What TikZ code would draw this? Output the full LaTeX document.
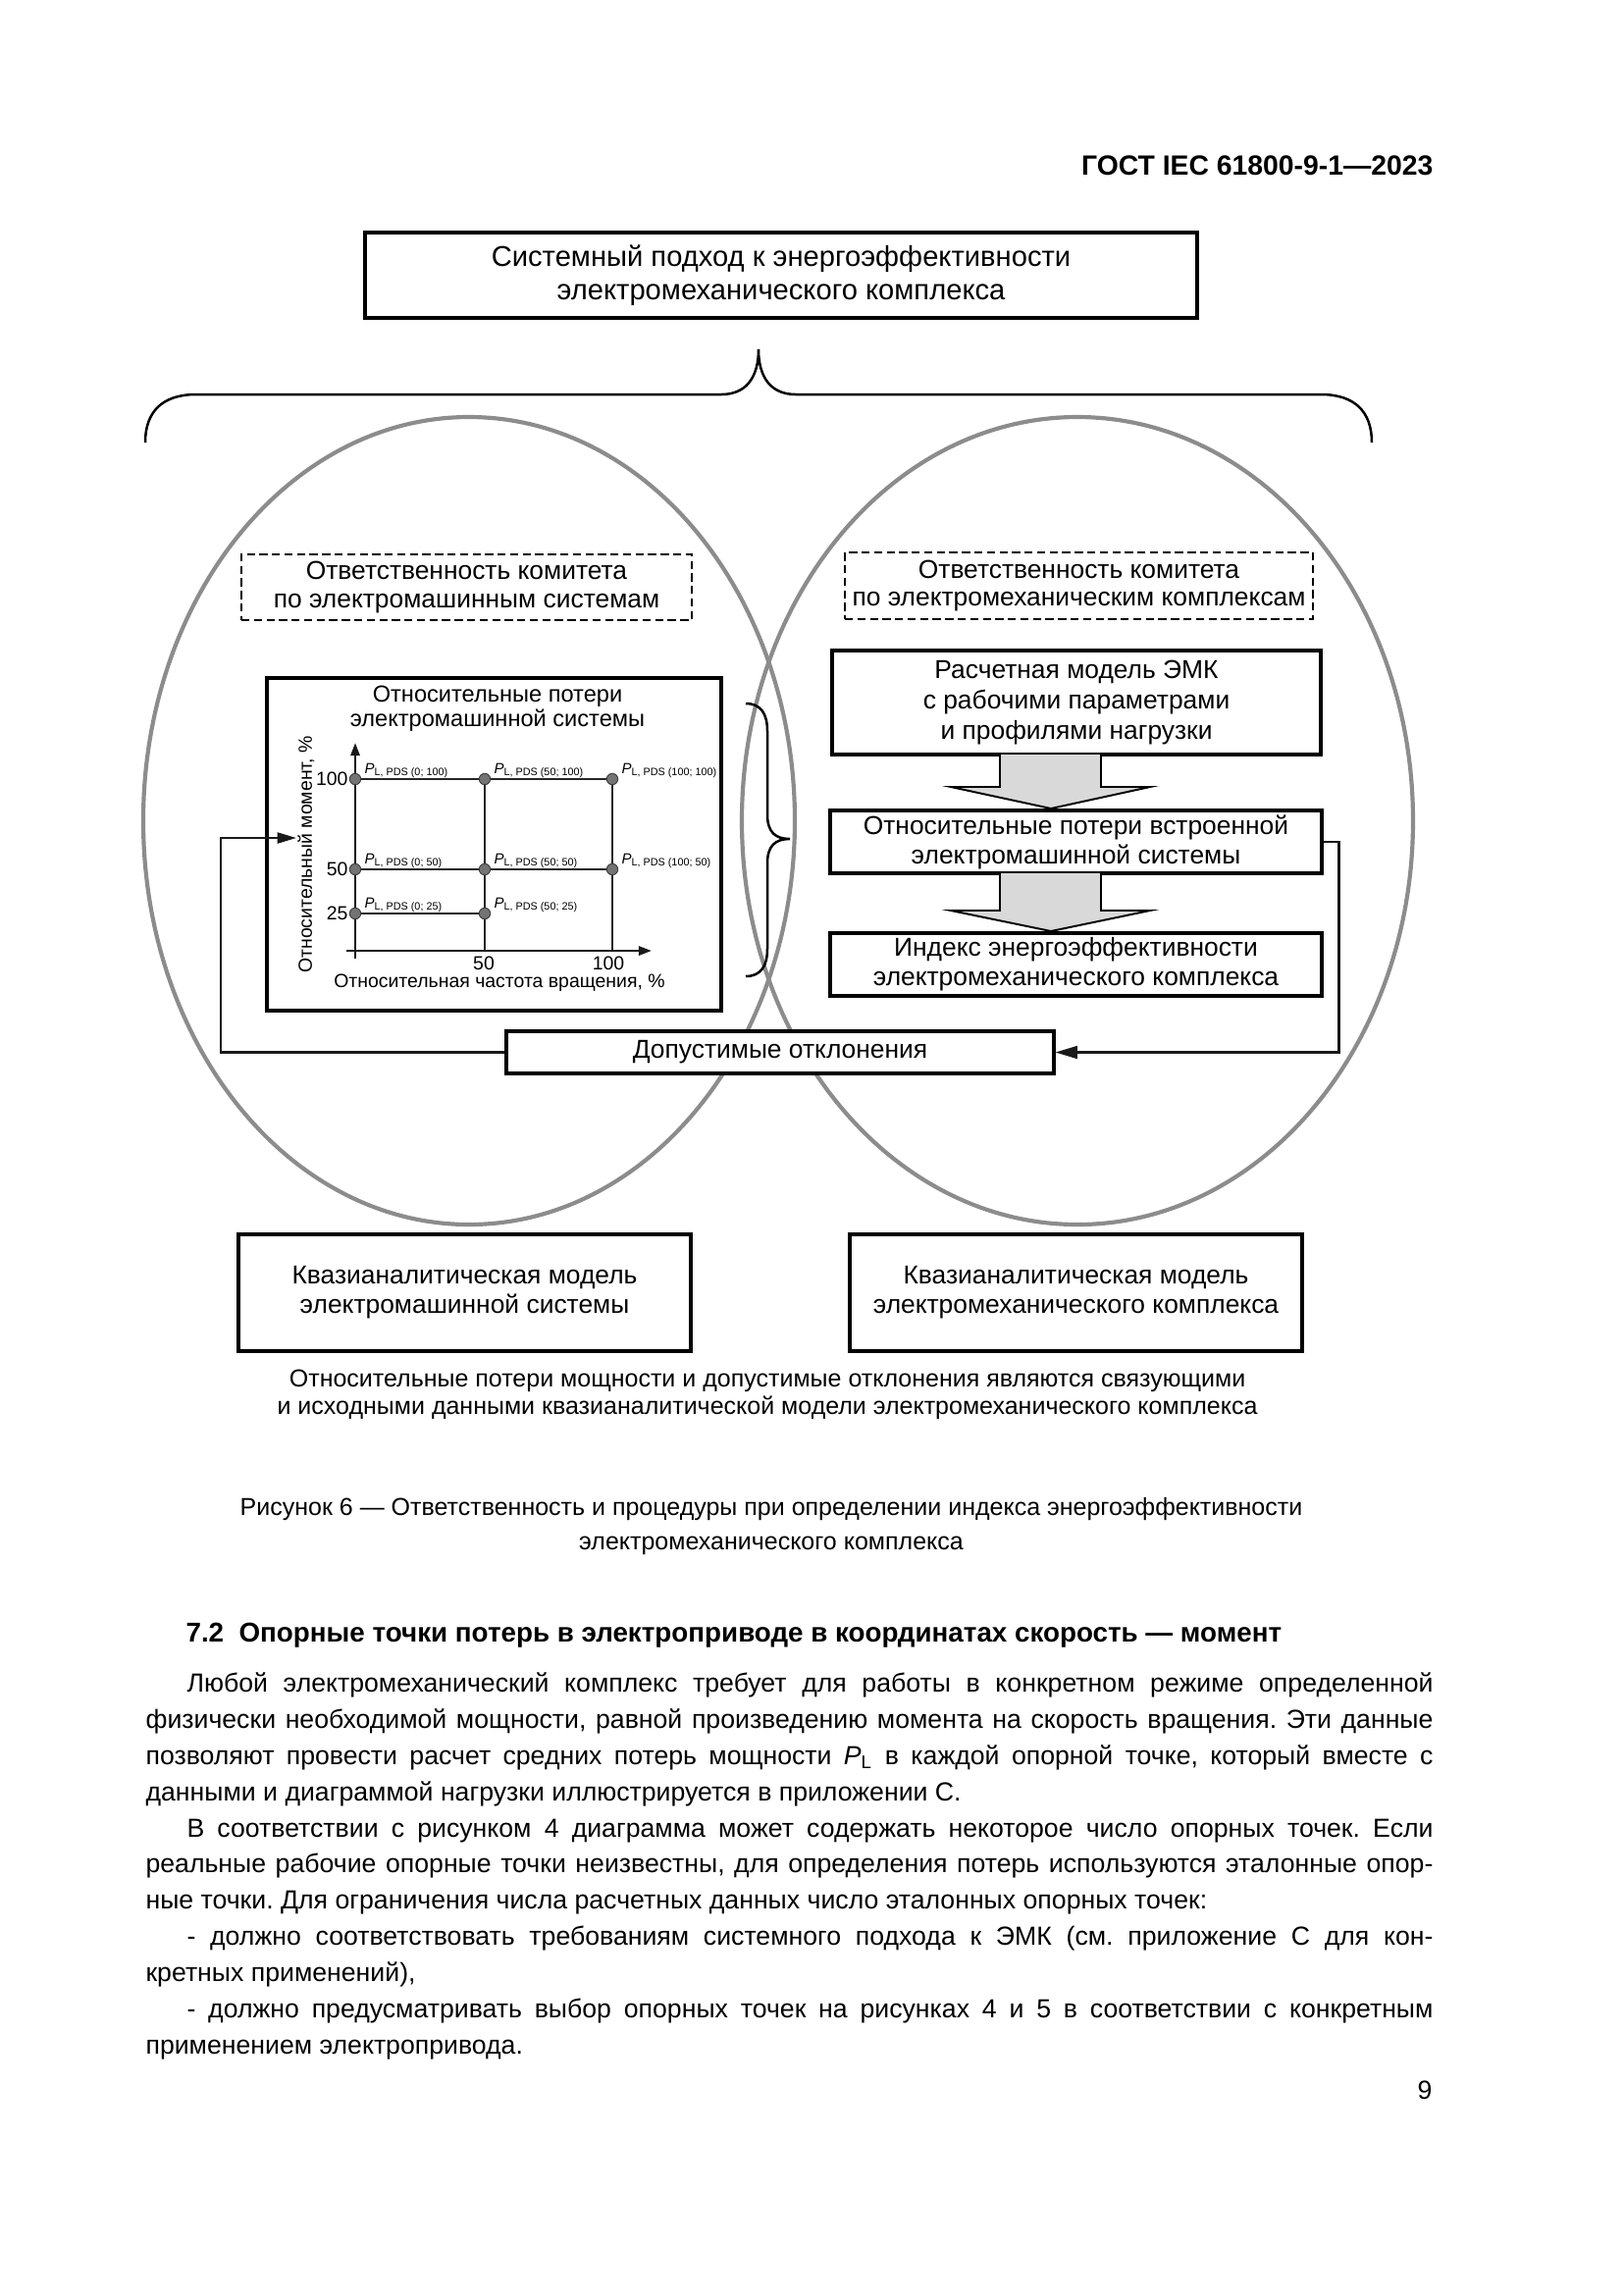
\documentclass[tikz,border=0pt]{standalone}
\usepackage{fontspec}
\setmainfont{Liberation Sans}
\usetikzlibrary{arrows.meta}
\frenchspacing
\newcommand{\fsz}[2]{\fontsize{#1}{#2}\selectfont}
\newlength{\bodyw}\setlength{\bodyw}{472.3pt}
\newlength{\bodywi}\setlength{\bodywi}{457.2pt}
\newcommand{\jline}[1]{\makebox[\bodyw][s]{#1}}
\newcommand{\jlinei}[1]{\makebox[\bodywi][s]{#1}}
\newcommand{\plab}[1]{{\fsz{5.4}{6}\itshape P}\raisebox{-1pt}{\fsz{3.9}{4.5}L,\ PDS\ (#1)}}
\begin{document}
\begin{tikzpicture}[x=0.36pt, y=-0.36pt,
  mbox/.style={draw=black, line width=1.1pt, fill=white, inner sep=0pt, align=center},
  wh/.style 2 args={minimum width=#1*0.36pt, minimum height=#2*0.36pt},
  dbox/.style={mbox, line width=0.9pt, dash pattern=on 3pt off 1.6pt},
  ell/.style={draw=black!45, line width=1.5pt},
  conn/.style={draw=black!90, line width=0.75pt},
  tipbig/.style={-{Triangle[length=8pt,width=4.6pt]}},
  axisline/.style={draw=black!90, line width=0.85pt, -{Triangle[length=4.7pt,width=3.3pt]}},
  gline/.style={draw=black!85, line width=0.7pt},
  pdot/.style={circle, fill=black!55, draw=black!75, line width=0.35pt, inner sep=0pt, minimum size=4.1pt},
  blk/.style={fill=black!15, draw=black, line width=0.7pt, line join=miter},
  brace/.style={draw=black, line width=0.9pt},
  txt/.style={inner sep=0pt}]
\useasboundingbox[fill=white] (0,0) rectangle (1654,2339);

% header
\node[txt, anchor=base east, font=\fsz{10.2}{12}\bfseries] (hdr) at (1461,178) {ГОСТ IEC 61800-9-1—2023};

% top box
\node[mbox, wh={848}{87}, font=\fsz{10.5}{12.24}] (top) at (796,280.5) {Системный подход к энергоэффективности\\электромеханического комплекса};

% big brace
\draw[brace] (148,451) .. controls (148,420) and (165,402) .. (200,402) -- (735,402)
  .. controls (760,402) and (773,385) .. (773,356)
  .. controls (773,385) and (786,402) .. (811,402) -- (1346,402)
  .. controls (1381,402) and (1398,420) .. (1398,451);

% ellipses
\draw[ell] (478,836.5) ellipse [x radius=332, y radius=411.5];
\draw[ell] (1098,836.5) ellipse [x radius=342, y radius=411.5];

% dashed boxes
\node[dbox, wh={459}{67}, font=\fsz{9.5}{10.4}] (dl) at (475.5,598.5) {Ответственность комитета\\по электромашинным системам};
\node[dbox, wh={477}{68}, font=\fsz{9.5}{10.4}] (dr) at (1099.5,597) {Ответственность комитета\\по электромеханическим комплексам};

% chart
\node[mbox, wh={463}{339}] (chart) at (503.5,860.5) {};
\node[txt, align=center, font=\fsz{8.5}{9}] (ctitle) at (507,722.5) {Относительные потери\\электромашинной системы};
\draw[gline] (362,794) -- (624,794);
\draw[gline] (362,886) -- (624,886);
\draw[gline] (362,931) -- (494,931);
\draw[gline] (494,794) -- (494,969);
\draw[gline] (624,794) -- (624,969);
\draw[axisline] (362,977) -- (362,757);
\draw[axisline] (353,969) -- (664,969);
\node[pdot] (d1) at (362,794) {};
\node[pdot] (d2) at (494,794) {};
\node[pdot] (d3) at (624,794) {};
\node[pdot] (d4) at (362,886) {};
\node[pdot] (d5) at (494,886) {};
\node[pdot] (d6) at (624,886) {};
\node[pdot] (d7) at (362,931) {};
\node[pdot] (d8) at (494,931) {};
\node[txt, anchor=base west] (l1) at (371,788) {\plab{0;\ 100}};
\node[txt, anchor=base west] (l2) at (503,788) {\plab{50;\ 100}};
\node[txt, anchor=base west] (l3) at (633,788) {\plab{100;\ 100}};
\node[txt, anchor=base west] (l4) at (371,880) {\plab{0;\ 50}};
\node[txt, anchor=base west] (l5) at (503,880) {\plab{50;\ 50}};
\node[txt, anchor=base west] (l6) at (633,880) {\plab{100;\ 50}};
\node[txt, anchor=base west] (l7) at (371,925) {\plab{0;\ 25}};
\node[txt, anchor=base west] (l8) at (503,925) {\plab{50;\ 25}};
\node[txt, anchor=east, font=\fsz{7}{8}] (t100) at (355,794) {100};
\node[txt, anchor=east, font=\fsz{7}{8}] (t50) at (355,886) {50};
\node[txt, anchor=east, font=\fsz{7}{8}] (t25) at (355,931) {25};
\node[txt, font=\fsz{7}{8}] (x50) at (493,982) {50};
\node[txt, font=\fsz{7}{8}] (x100) at (620,982) {100};
\node[txt, font=\fsz{7}{8}] (xt) at (509,1002) {Относительная частота вращения, \%};
\node[txt, rotate=90, font=\fsz{7}{8}] (yt) at (312,871) {Относительный момент, \%};

% chart brace
\draw[brace] (760,717) .. controls (775,717) and (782,727) .. (782,745) -- (782,830)
  .. controls (782,848) and (790,855) .. (805,855)
  .. controls (790,855) and (782,862) .. (782,880) -- (782,967)
  .. controls (782,985) and (775,995) .. (760,995);

% right column
\node[mbox, wh={498}{106}, font=\fsz{9.5}{11}] (b1) at (1097,716) {Расчетная модель ЭМК\\с рабочими параметрами\\и профилями нагрузки};
\node[mbox, wh={501}{64}, font=\fsz{9.5}{10.8}] (b2) at (1096.5,858) {Относительные потери встроенной\\электромашинной системы};
\node[mbox, wh={501}{64}, font=\fsz{9.5}{10.8}] (b3) at (1096.5,983) {Индекс энергоэффективности\\электромеханического комплекса};
\draw[blk] (1019,769) -- (1019,802) -- (969,802) -- (1071,824) -- (1172,802) -- (1122,802) -- (1122,769);
\draw[blk] (1019,890) -- (1019,928) -- (969,928) -- (1071,949) -- (1172,928) -- (1122,928) -- (1122,890);

% allowed deviations
\node[mbox, wh={558}{43}, font=\fsz{9.5}{11}] (dop) at (795,1072.5) {Допустимые отклонения};
\draw[conn, tipbig] (b2.east) -- ++(16,0) |- (dop.east);
\coordinate (fbc) at (225,854);
\coordinate (fbt) at (302,854);
\draw[conn, -{Triangle[length=7pt,width=4pt]}] (dop.west) -| (fbc) -- (fbt);

% bottom boxes
\node[mbox, wh={461}{119}, font=\fsz{9.5}{10.8}] (ql) at (473.5,1317.5) {Квазианалитическая модель\\электромашинной системы};
\node[mbox, wh={461}{119}, font=\fsz{9.5}{10.8}] (qr) at (1096.5,1317.5) {Квазианалитическая модель\\электромеханического комплекса};
\node[txt, align=center, font=\fsz{9}{10}] (note) at (782,1421) {Относительные потери мощности и допустимые отклонения являются связующими\\и исходными данными квазианалитической модели электромеханического комплекса};

% caption
\node[txt, align=center, font=\fsz{9}{12.6}] (cap) at (786,1555.5) {Рисунок 6 — Ответственность и процедуры при определении индекса энергоэффективности\\электромеханического комплекса};

% section text
\node[txt, anchor=base west, font=\fsz{10}{12}\bfseries] (h72) at (189,1673) {7.2\ \ Опорные точки потерь в электроприводе в координатах скорость — момент};
\node[txt, anchor=base west, font=\fsz{9.6}{12}] (p1) at (190,1724) {\jlinei{Любой электромеханический комплекс требует для работы в конкретном режиме определенной}};
\node[txt, anchor=base west, font=\fsz{9.6}{12}] (p2) at (148,1761) {\jline{физически необходимой мощности, равной произведению момента на скорость вращения. Эти данные}};
\node[txt, anchor=base west, font=\fsz{9.6}{12}] (p3) at (148,1798) {\jline{позволяют провести расчет средних потерь мощности {\itshape P}\textsubscript{L} в каждой опорной точке, который вместе с}};
\node[txt, anchor=base west, font=\fsz{9.6}{12}] (p4) at (148,1835) {данными и диаграммой нагрузки иллюстрируется в приложении С.};
\node[txt, anchor=base west, font=\fsz{9.6}{12}] (p5) at (190,1872) {\jlinei{В соответствии с рисунком 4 диаграмма может содержать некоторое число опорных точек. Если}};
\node[txt, anchor=base west, font=\fsz{9.6}{12}] (p6) at (148,1908) {\jline{реальные рабочие опорные точки неизвестны, для определения потерь используются эталонные опор-}};
\node[txt, anchor=base west, font=\fsz{9.6}{12}] (p7) at (148,1945) {ные точки. Для ограничения числа расчетных данных число эталонных опорных точек:};
\node[txt, anchor=base west, font=\fsz{9.6}{12}] (p8) at (190,1982) {\jlinei{- должно соответствовать требованиям системного подхода к ЭМК (см. приложение С для кон-}};
\node[txt, anchor=base west, font=\fsz{9.6}{12}] (p9) at (148,2019) {кретных применений),};
\node[txt, anchor=base west, font=\fsz{9.6}{12}] (p10) at (190,2056) {\jlinei{- должно предусматривать выбор опорных точек на рисунках 4 и 5 в соответствии с конкретным}};
\node[txt, anchor=base west, font=\fsz{9.6}{12}] (p11) at (148,2093) {применением электропривода.};
\node[txt, anchor=base east, font=\fsz{9.6}{12}] (pg) at (1460,2139) {9};
\end{tikzpicture}
\end{document}
